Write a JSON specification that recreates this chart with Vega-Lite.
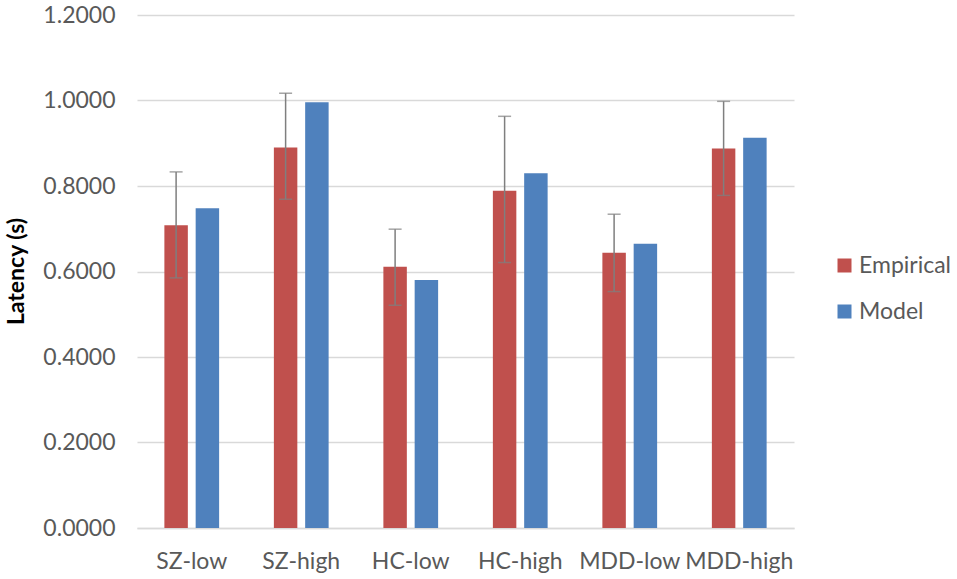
{
  "$schema": "https://vega.github.io/schema/vega-lite/v6.json",
  "width": 657,
  "height": 513,
  "autosize": {"type": "none"},
  "padding": {"left": 137, "top": 15, "right": 163, "bottom": 51},
  "background": "white",
  "config": {
    "font": "Lato",
    "view": {"stroke": null},
    "axis": {"labelFont": "Lato", "titleFont": "Lato"}
  },
  "data": {
    "values": [
      {"group": "SZ-low", "series": "Empirical", "value": 0.708, "lo": 0.585, "hi": 0.833},
      {"group": "SZ-low", "series": "Model", "value": 0.748},
      {"group": "SZ-high", "series": "Empirical", "value": 0.890, "lo": 0.769, "hi": 1.017},
      {"group": "SZ-high", "series": "Model", "value": 0.996},
      {"group": "HC-low", "series": "Empirical", "value": 0.611, "lo": 0.521, "hi": 0.699},
      {"group": "HC-low", "series": "Model", "value": 0.580},
      {"group": "HC-high", "series": "Empirical", "value": 0.789, "lo": 0.621, "hi": 0.963},
      {"group": "HC-high", "series": "Model", "value": 0.830},
      {"group": "MDD-low", "series": "Empirical", "value": 0.644, "lo": 0.553, "hi": 0.734},
      {"group": "MDD-low", "series": "Model", "value": 0.665},
      {"group": "MDD-high", "series": "Empirical", "value": 0.888, "lo": 0.778, "hi": 0.998},
      {"group": "MDD-high", "series": "Model", "value": 0.913}
    ]
  },
  "encoding": {
    "x": {
      "field": "group",
      "type": "nominal",
      "sort": ["SZ-low", "SZ-high", "HC-low", "HC-high", "MDD-low", "MDD-high"],
      "scale": {"paddingInner": 0.5, "paddingOuter": 0.25},
      "axis": {
        "title": null,
        "labelAngle": 0,
        "labelFontSize": 23,
        "labelColor": "#595959",
        "labelPadding": 22,
        "ticks": false,
        "domainColor": "#d9d9d9",
        "domainWidth": 1.5,
        "grid": false
      }
    },
    "xOffset": {
      "field": "series",
      "type": "nominal",
      "sort": ["Empirical", "Model"],
      "scale": {"paddingInner": 0.25, "paddingOuter": 0}
    }
  },
  "layer": [
    {
      "mark": {"type": "bar"},
      "encoding": {
        "y": {
          "field": "value",
          "type": "quantitative",
          "scale": {"domain": [0, 1.2], "nice": false},
          "axis": {
            "values": [0, 0.2, 0.4, 0.6, 0.8, 1.0, 1.2],
            "format": ".4f",
            "title": "Latency (s)",
            "titleFontSize": 23,
            "titleFontWeight": "bold",
            "titleColor": "#000000",
            "titleX": -109,
            "titleY": 256,
            "labelFontSize": 23,
            "labelColor": "#595959",
            "labelPadding": 22,
            "ticks": false,
            "domain": false,
            "gridColor": "#d9d9d9",
            "gridWidth": 1.5
          }
        },
        "color": {
          "field": "series",
          "type": "nominal",
          "scale": {"domain": ["Empirical", "Model"], "range": ["#C0504D", "#4F81BD"]},
          "legend": {
            "title": null,
            "orient": "none",
            "legendX": 696,
            "legendY": 239,
            "symbolType": "square",
            "symbolSize": 196,
            "symbolStrokeWidth": 0,
            "symbolOpacity": 1,
            "labelFontSize": 23,
            "labelColor": "#595959",
            "labelOffset": 3,
            "rowPadding": 22
          }
        }
      }
    },
    {
      "transform": [{"filter": "datum.lo != null"}],
      "mark": {"type": "rule", "color": "#7f7f7f", "strokeWidth": 1.5},
      "encoding": {
        "y": {"field": "lo", "type": "quantitative"},
        "y2": {"field": "hi"}
      }
    },
    {
      "transform": [{"filter": "datum.lo != null"}],
      "mark": {"type": "tick", "color": "#7f7f7f", "size": 13, "thickness": 1.5, "orient": "horizontal"},
      "encoding": {
        "y": {"field": "lo", "type": "quantitative"}
      }
    },
    {
      "transform": [{"filter": "datum.lo != null"}],
      "mark": {"type": "tick", "color": "#7f7f7f", "size": 13, "thickness": 1.5, "orient": "horizontal"},
      "encoding": {
        "y": {"field": "hi", "type": "quantitative"}
      }
    }
  ]
}
